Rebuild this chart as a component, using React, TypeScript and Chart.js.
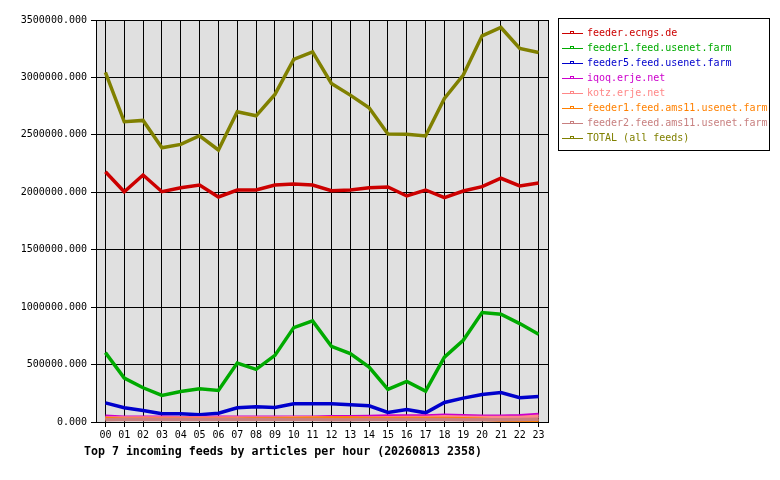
import { useEffect, useRef } from "react"
import { Chart, registerables } from "chart.js"
import type { Plugin } from "chart.js"

Chart.register(...registerables)

const hours = [
  "00", "01", "02", "03", "04", "05", "06", "07", "08", "09", "10", "11",
  "12", "13", "14", "15", "16", "17", "18", "19", "20", "21", "22", "23",
]

const feedNames = [
  "feeder.ecngs.de",
  "feeder1.feed.usenet.farm",
  "feeder5.feed.usenet.farm",
  "iqoq.erje.net",
  "kotz.erje.net",
  "feeder1.feed.ams11.usenet.farm",
  "feeder2.feed.ams11.usenet.farm",
  "TOTAL (all feeds)",
]

const feedColors = ["#cc0000", "#00aa00", "#0000cc", "#cc00cc", "#ff8888", "#ff8000", "#c88080", "#808000"]

const ecngs = [
  2179000, 2005000, 2150000, 2005000, 2040000, 2063000, 1959000, 2020000, 2020000, 2063000, 2072000, 2063000,
  2014000, 2020000, 2040000, 2046000, 1968000, 2020000, 1953000, 2011000, 2049000, 2122000, 2055000, 2081000,
]
const feeder1 = [
  604000, 382000, 298000, 231000, 266000, 290000, 275000, 513000, 458000, 580000, 822000, 880000,
  659000, 595000, 478000, 284000, 353000, 269000, 565000, 711000, 953000, 938000, 857000, 764000,
]
const feeder5 = [
  167000, 124000, 100000, 72000, 72000, 63000, 77000, 124000, 133000, 127000, 159000, 159000,
  159000, 150000, 141000, 83000, 109000, 80000, 170000, 208000, 240000, 257000, 211000, 222000,
]
const iqoq = [
  50000, 42000, 42000, 42000, 38000, 38000, 42000, 42000, 42000, 42000, 42000, 42000,
  45000, 45000, 48000, 52000, 52000, 52000, 58000, 55000, 50000, 50000, 55000, 65000,
]
const kotz = [
  35000, 35000, 35000, 35000, 35000, 35000, 35000, 35000, 35000, 35000, 38000, 38000,
  35000, 35000, 35000, 38000, 40000, 40000, 45000, 42000, 40000, 40000, 40000, 50000,
]
const ams11a = [
  30000, 25000, 25000, 25000, 25000, 25000, 25000, 25000, 28000, 28000, 30000, 32000,
  35000, 35000, 30000, 30000, 30000, 30000, 30000, 28000, 25000, 15000, 10000, 8000,
]
const ams11b = [
  20000, 22000, 22000, 22000, 22000, 22000, 22000, 22000, 22000, 22000, 22000, 22000,
  20000, 20000, 22000, 22000, 22000, 22000, 22000, 20000, 20000, 20000, 22000, 25000,
]
const total = [
  3043000, 2614000, 2626000, 2388000, 2417000, 2492000, 2368000, 2701000, 2666000, 2852000, 3157000, 3223000,
  2948000, 2846000, 2736000, 2507000, 2505000, 2490000, 2817000, 3020000, 3362000, 3435000, 3252000, 3217000,
]

const series = [ecngs, feeder1, feeder5, iqoq, kotz, ams11a, ams11b, total]

const titleText = "Top 7 incoming feeds by articles per hour (20260813 2358)"
const mono = "'DejaVu Sans Mono', 'Liberation Mono', monospace"

// plot background, frame, legend box and bottom title
const decorations: Plugin<"line"> = {
  id: "decorations",
  beforeDraw(chart) {
    const { ctx, chartArea } = chart
    ctx.save()
    ctx.fillStyle = "#ffffff"
    ctx.fillRect(0, 0, chart.width, chart.height)
    ctx.fillStyle = "#e0e0e0"
    ctx.fillRect(chartArea.left, chartArea.top, chartArea.right - chartArea.left, chartArea.bottom - chartArea.top)
    ctx.restore()
  },
  afterDraw(chart) {
    const { ctx, chartArea } = chart
    ctx.save()
    ctx.strokeStyle = "#000000"
    ctx.lineWidth = 1
    ctx.strokeRect(
      Math.round(chartArea.left) + 0.5,
      Math.round(chartArea.top) + 0.5,
      Math.round(chartArea.right - chartArea.left),
      Math.round(chartArea.bottom - chartArea.top),
    )

    // legend
    const bx = 558
    const by = 18
    ctx.fillStyle = "#ffffff"
    ctx.fillRect(bx, by, 211, 132)
    ctx.strokeRect(bx + 0.5, by + 0.5, 211, 132)
    ctx.font = `10px ${mono}`
    ctx.textBaseline = "middle"
    ctx.textAlign = "left"
    chart.data.datasets.forEach((ds, i) => {
      const y = 33 + i * 15 + 0.5
      const color = ds.borderColor as string
      ctx.strokeStyle = color
      ctx.beginPath()
      ctx.moveTo(562, y)
      ctx.lineTo(583, y)
      ctx.stroke()
      ctx.strokeRect(570.5, y - 2, 3, 2)
      ctx.fillStyle = color
      ctx.fillText(ds.label as string, 587, y)
    })

    ctx.fillStyle = "#000000"
    ctx.font = `bold 11.6px ${mono}`
    ctx.textBaseline = "middle"
    ctx.fillText(titleText, 84, 452)
    ctx.restore()
  },
}

export default function App() {
  const canvasRef = useRef<HTMLCanvasElement>(null)
  const chartRef = useRef<Chart | null>(null)

  useEffect(() => {
    if (!canvasRef.current) return
    if (chartRef.current) chartRef.current.destroy()

    chartRef.current = new Chart(canvasRef.current, {
      type: "line",
      data: {
        labels: hours,
        datasets: series.map((values, i) => ({
          label: feedNames[i],
          data: values,
          borderColor: feedColors[i],
          backgroundColor: feedColors[i],
          borderWidth: 3.5,
          pointRadius: 0,
          tension: 0,
          fill: false,
          order: series.length - 1 - i,
        })),
      },
      options: {
        responsive: false,
        animation: false,
        devicePixelRatio: 1,
        layout: { padding: { left: 0, top: 20, right: 232, bottom: 28 } },
        plugins: {
          legend: { display: false },
          title: { display: false },
          tooltip: { enabled: false },
        },
        scales: {
          x: {
            offset: true,
            grid: { offset: false, color: "#000000", lineWidth: 1, tickLength: 5, drawOnChartArea: true },
            border: { color: "#000000" },
            ticks: { color: "#000000", font: { family: mono, size: 10 }, padding: 2, maxRotation: 0, autoSkip: false },
            afterFit: (scale) => {
              scale.height = 30
            },
          },
          y: {
            min: 0,
            max: 3500000,
            grid: { color: "#000000", lineWidth: 1, tickLength: 5 },
            border: { color: "#000000" },
            ticks: {
              stepSize: 500000,
              color: "#000000",
              font: { family: mono, size: 10 },
              padding: 4,
              callback: (value) => Number(value).toFixed(3),
            },
            afterFit: (scale) => {
              scale.width = 96
            },
          },
        },
      },
      plugins: [decorations],
    })

    return () => {
      if (chartRef.current) {
        chartRef.current.destroy()
        chartRef.current = null
      }
    }
  }, [])

  return (
    <div style={{ position: "fixed", left: 0, top: 0, width: 780, height: 480, background: "#ffffff" }}>
      <canvas ref={canvasRef} width={780} height={480} style={{ width: 780, height: 480 }}></canvas>
    </div>
  )
}
